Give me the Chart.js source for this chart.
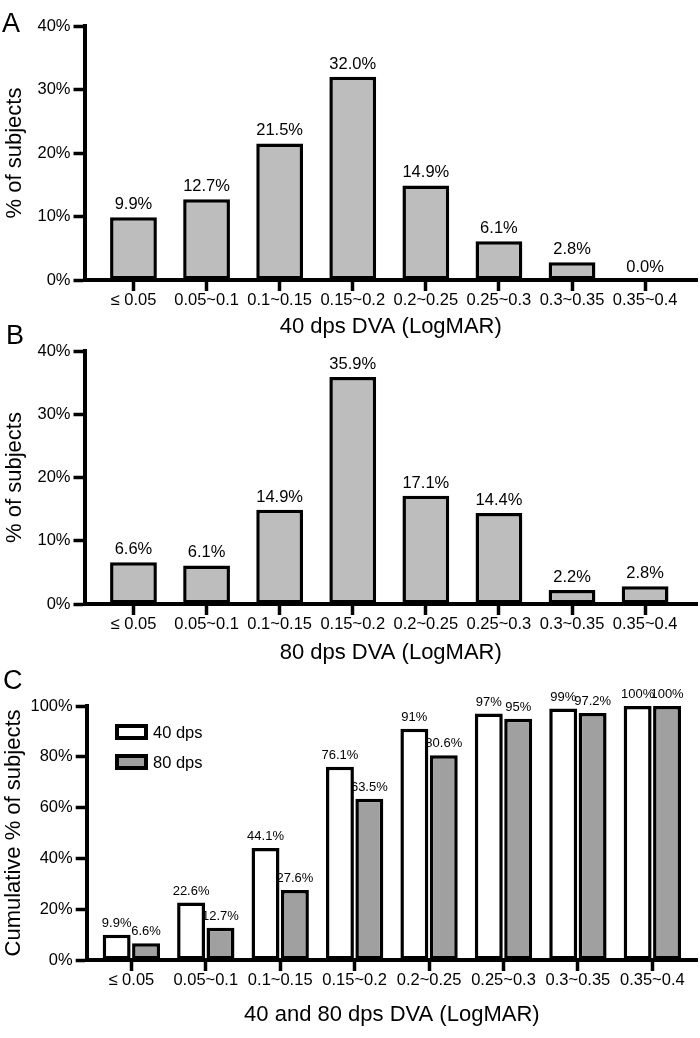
<!DOCTYPE html>
<html><head><meta charset="utf-8">
<script src="https://cdn.jsdelivr.net/npm/chart.js@4.4.1/dist/chart.umd.min.js"></script>
<style>
html,body{margin:0;padding:0;background:#fff;}
#wrap{position:relative;width:700px;height:1038px;overflow:hidden;font-family:'Liberation Sans',Arial,sans-serif;}
canvas{position:absolute;left:0;}
.lbl{position:absolute;font-size:27px;line-height:27px;color:#000;}
</style></head><body>
<div id="wrap">
<canvas id="cA" width="700" height="342" style="top:0px"></canvas>
<canvas id="cB" width="700" height="338" style="top:330px"></canvas>
<canvas id="cC" width="700" height="370" style="top:660px"></canvas>
<div class="lbl" style="left:2px;top:10px">A</div>
<div class="lbl" style="left:6px;top:322px">B</div>
<div class="lbl" style="left:3px;top:667px">C</div>
</div>
<script>
const categories = ['≤ 0.05','0.05~0.1','0.1~0.15','0.15~0.2','0.2~0.25','0.25~0.3','0.3~0.35','0.35~0.4'];
const pct40 = [9.9, 12.7, 21.5, 32.0, 14.9, 6.1, 2.8, 0.0];
const pct80 = [6.6, 6.1, 14.9, 35.9, 17.1, 14.4, 2.2, 2.8];
const cum40 = [9.9, 22.6, 44.1, 76.1, 91, 97, 99, 100];
const cum80 = [6.6, 12.7, 27.6, 63.5, 80.6, 95, 97.2, 100];
const yTicksAB = [0, 10, 20, 30, 40];
const yTicksC = [0, 20, 40, 60, 80, 100];
const seriesNames = ['40 dps', '80 dps'];

const FONT = "'Liberation Sans', Arial, sans-serif";
Chart.defaults.font.family = FONT;
Chart.defaults.color = '#000';

function toXY(arr){ return arr.map((v,i)=>({x:i, y:v})); }

function labelPlugin(size, fmt){
  return { id:'valueLabels', afterDatasetsDraw(chart){
    const ctx = chart.ctx; ctx.save();
    ctx.font = size + 'px ' + FONT; ctx.fillStyle = '#000';
    ctx.textAlign = 'center'; ctx.textBaseline = 'alphabetic';
    chart.data.datasets.forEach((ds, di) => {
      chart.getDatasetMeta(di).data.forEach((el, i) => {
        ctx.fillText(fmt(ds.data[i].y), el.x, el.y - 8);
      });
    });
    ctx.restore();
  }};
}

const legendPlugin = { id:'boxLegend', afterDraw(chart){
  const ctx = chart.ctx; ctx.save();
  const ys = [72, 102];
  chart.data.datasets.forEach((ds, i) => {
    const x = 115, w = 33, h = 16, y = ys[i] - h/2, b = 4;
    ctx.fillStyle = '#000'; ctx.fillRect(x, y, w, h);
    ctx.fillStyle = ds.backgroundColor; ctx.fillRect(x+b, y+b, w-2*b, h-2*b);
    ctx.fillStyle = '#000'; ctx.font = '16.5px ' + FONT;
    ctx.textAlign = 'left'; ctx.textBaseline = 'middle';
    ctx.fillText(ds.label, x + w + 5, ys[i] + 1);
  });
  ctx.restore();
}};

function xScale(min, max, title, height){
  return {
    type:'linear', min:min, max:max, offset:false,
    afterBuildTicks: s => { s.ticks = categories.map((c,i)=>({value:i})); },
    afterFit: s => { s.height = height; },
    ticks:{ callback: v => categories[v], font:{size:16.5}, padding:0, autoSkip:false, maxRotation:0, color:'#000' },
    grid:{ display:true, drawOnChartArea:false, offset:false, tickLength:11, tickWidth:3.5, tickColor:'#000' },
    border:{ display:true, color:'#000', width:4 },
    title:{ display:true, text:title, font:{size:22}, padding:{top:0, bottom:2}, color:'#000' }
  };
}
function yScale(max, ticksArr, title, width, tpad){
  return {
    type:'linear', min:0, max:max,
    afterBuildTicks: s => { s.ticks = ticksArr.map(v=>({value:v})); },
    afterFit: s => { s.width = width; },
    ticks:{ callback: v => v + '%', font:{size:16.5}, padding:3, color:'#000' },
    grid:{ display:true, drawOnChartArea:false, tickLength:11, tickWidth:3.5, tickColor:'#000' },
    border:{ display:true, color:'#000', width:4 },
    title:{ display:true, text:title, font:{size:22}, padding:{top:tpad, bottom:0}, color:'#000' }
  };
}

function single(id, values, xTitle, padTop, xH){
  return new Chart(document.getElementById(id), {
    type:'bar',
    data:{ datasets:[{ data: toXY(values), backgroundColor:'#bdbdbd', borderColor:'#000', borderWidth:3.5, borderSkipped:false, categoryPercentage:1, barPercentage:0.64 }] },
    options:{
      responsive:false, animation:false,
      layout:{ padding:{ top:padTop, left:0, right:3, bottom:0 } },
      plugins:{ legend:{display:false}, tooltip:{enabled:false} },
      scales:{ x: xScale(-0.67, 7.71, xTitle, xH), y: yScale(40, yTicksAB, '% of subjects', 84.5, 2) }
    },
    plugins:[ labelPlugin(16.5, v => v.toFixed(1) + '%') ]
  });
}

single('cA', pct40, '40 dps DVA (LogMAR)', 26, 62);
single('cB', pct80, '80 dps DVA (LogMAR)', 21, 64);

new Chart(document.getElementById('cC'), {
  type:'bar',
  data:{ datasets:[
    { label: seriesNames[0], data: toXY(cum40), backgroundColor:'#ffffff', borderColor:'#000', borderWidth:3.5, borderSkipped:false, categoryPercentage:0.79, barPercentage:0.95 },
    { label: seriesNames[1], data: toXY(cum80), backgroundColor:'#a0a0a0', borderColor:'#000', borderWidth:3.5, borderSkipped:false, categoryPercentage:0.79, barPercentage:0.95 }
  ]},
  options:{
    responsive:false, animation:false,
    layout:{ padding:{ top:46, left:0, right:3, bottom:0 } },
    plugins:{ legend:{display:false}, tooltip:{enabled:false} },
    scales:{ x: xScale(-0.6, 7.6, '40 and 80 dps DVA (LogMAR)', 70), y: yScale(100, yTicksC, 'Cumulative % of subjects', 86.7, 1) }
  },
  plugins:[ labelPlugin(13, v => v + '%'), legendPlugin ]
});
</script>
</body></html>
